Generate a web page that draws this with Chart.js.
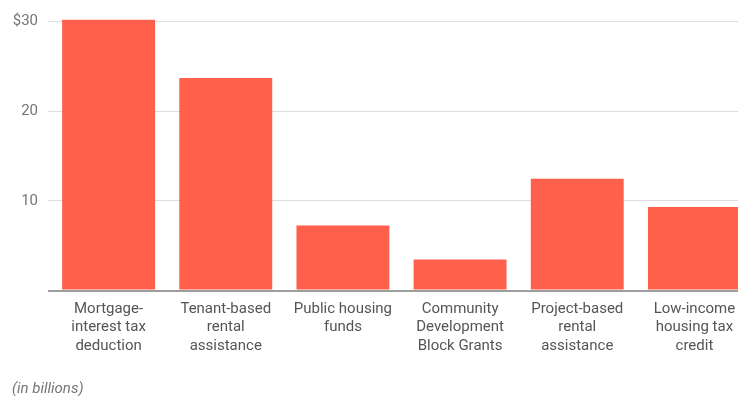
<!DOCTYPE html>
<html>
<head>
<meta charset="utf-8">
<script src="https://cdn.jsdelivr.net/npm/chart.js@4/dist/chart.umd.min.js"></script>
<style>
  html, body { margin: 0; padding: 0; background: #fff; overflow: hidden; width: 738px; height: 396px; }
  #wrap { position: relative; width: 756px; height: 396px; }
  #note { position: absolute; left: 12px; top: 379px; font: italic 15px Roboto, sans-serif; color: #757575; line-height: 18px; }
</style>
</head>
<body>
<div id="wrap">
  <canvas id="myChart"></canvas>
  <div id="note">(in billions)</div>
</div>
<script>
// Chart data
let categories = [
  ['Mortgage-', 'interest tax', 'deduction'],
  ['Tenant-based', 'rental', 'assistance'],
  ['Public housing', 'funds'],
  ['Community', 'Development', 'Block Grants'],
  ['Project-based', 'rental', 'assistance'],
  ['Low-income', 'housing tax', 'credit']
];
let spending = [30.2, 23.7, 7.25, 3.45, 12.45, 9.3];
let tickValues = [0, 10, 20, 30];

let barColor = '#ff604b';

function chartRender() {
  let ctx = document.getElementById('myChart').getContext('2d');
  // eslint-disable-next-line no-undef
  let myChart = new Chart(ctx, {
    type: 'bar',
    data: {
      labels: categories,
      datasets: [{
        data: spending,
        backgroundColor: barColor,
        borderWidth: 0,
        categoryPercentage: 1,
        barPercentage: 0.793
      }]
    },
    options: {
      responsive: true,
      maintainAspectRatio: false,
      animation: false,
      layout: {
        padding: { top: 18, right: 3, bottom: 25.5, left: 0 }
      },
      plugins: {
        legend: { display: false },
        tooltip: { enabled: false }
      },
      scales: {
        x: {
          grid: { display: false },
          border: { display: false },
          ticks: {
            color: '#555555',
            font: { family: 'Roboto', size: 15, lineHeight: 1.25 },
            padding: 1,
            maxRotation: 0,
            autoSkip: false
          },
          afterFit: function (axis) { axis.height = 80; }
        },
        y: {
          min: 0,
          max: 30.28,
          afterBuildTicks: function (axis) {
            axis.ticks = tickValues.map(v => ({ value: v }));
          },
          border: { display: false },
          grid: {
            drawTicks: true,
            tickLength: 2,
            color: c => c.tick && c.tick.value === 0 ? '#9e9e9e' : '#dddddd',
            lineWidth: c => c.tick && c.tick.value === 0 ? 2 : 1
          },
          ticks: {
            color: '#757575',
            font: { family: 'Roboto', size: 15 },
            padding: 10,
            callback: function (v) {
              if (v === 0) return '';
              return v === 30 ? '$' + v : String(v);
            }
          },
          afterFit: function (axis) { axis.width = 50; }
        }
      }
    }
  });
}
chartRender();
</script>
</body>
</html>
